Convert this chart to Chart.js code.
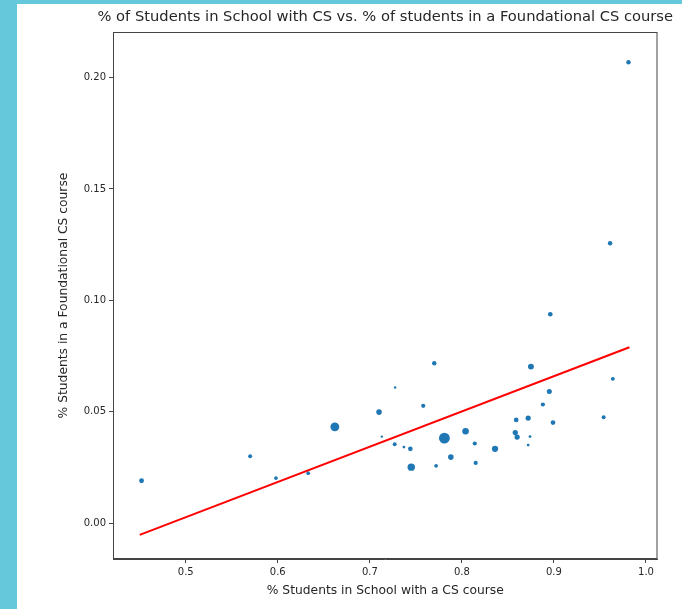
<!DOCTYPE html>
<html>
<head>
<meta charset="utf-8">
<script src="https://cdn.jsdelivr.net/npm/chart.js@4.4.1/dist/chart.umd.min.js"></script>
<style>
  html, body { margin: 0; padding: 0; }
  body { width: 682px; height: 609px; background: #65c8db; position: relative; overflow: hidden; }
  .panel { position: absolute; left: 17px; top: 4px; right: 0; bottom: 0; background: #fff; }
  #chart { position: absolute; left: 0; top: 0; }
</style>
</head>
<body>
<div class="panel"></div>
<canvas id="chart" width="682" height="609"></canvas>
<script>
// share of students in schools offering CS (x) vs share in a foundational CS course (y)
const pctWithCS = [
  0.452, 0.570, 0.598, 0.633, 0.662, 0.710, 0.713, 0.7275, 0.727, 0.737,
  0.744, 0.745, 0.758, 0.770, 0.772, 0.781, 0.788, 0.804, 0.814, 0.815,
  0.836, 0.858, 0.859, 0.860, 0.872, 0.872, 0.874, 0.875, 0.888, 0.895,
  0.896, 0.899, 0.954, 0.961, 0.964, 0.981
];
const pctFoundational = [
  0.0191, 0.0301, 0.0203, 0.0225, 0.0433, 0.0499, 0.0389, 0.0609, 0.0355, 0.0342,
  0.0334, 0.0252, 0.0527, 0.0718, 0.0258, 0.0382, 0.0297, 0.0413, 0.0358, 0.0271,
  0.0334, 0.0407, 0.0464, 0.0387, 0.0472, 0.0351, 0.0389, 0.0703, 0.0533, 0.0591,
  0.0938, 0.0452, 0.0476, 0.1256, 0.0648, 0.2068
];
// marker weight per school (matplotlib-style area)
const markerWeight = [
  12, 8, 7, 7, 40, 16, 3, 3, 8, 4,
  11, 28, 9, 10, 7, 60, 16, 22, 9, 9,
  20, 14, 11, 14, 14, 4, 4, 18, 9, 13,
  11, 11, 8, 10, 8, 10
];
// least-squares fit line endpoints
const fitX = [0.450, 0.982];
const fitY = [-0.0052, 0.0790];

const xTicks = [0.5, 0.6, 0.7, 0.8, 0.9, 1.0];
const yTicks = [0.00, 0.05, 0.10, 0.15, 0.20];

const chartTitle = '% of Students in School with CS vs. % of students in a Foundational CS course';

const FONT = "'DejaVu Sans', sans-serif";
const INK = '#262626';

const points = pctWithCS.map((x, i) => ({ x, y: pctFoundational[i] }));
const fitLine = fitX.map((x, i) => ({ x, y: fitY[i] }));

// closes the box (top and right spines) and centres the title over the axes,
// letting it run wider than the plot like matplotlib does
const frame = {
  id: 'frame',
  afterDraw(chart) {
    const { ctx, chartArea: a } = chart;
    ctx.save();
    ctx.strokeStyle = '#444';
    ctx.lineWidth = 1;
    ctx.strokeRect(a.left + 0.5, a.top + 0.5, a.right - a.left - 1, a.bottom - a.top - 1);

    ctx.fillStyle = INK;
    ctx.font = `14.7px ${FONT}`;
    ctx.textAlign = 'center';
    ctx.textBaseline = 'alphabetic';
    ctx.fillText(chartTitle, (a.left + a.right) / 2, a.top - 11);
    ctx.restore();
  }
};

new Chart(document.getElementById('chart'), {
  type: 'scatter',
  data: {
    datasets: [
      {
        label: 'fit',
        type: 'line',
        data: fitLine,
        borderColor: '#ff0000',
        borderWidth: 2,
        pointRadius: 0,
        fill: false,
        order: 1
      },
      {
        label: 'schools',
        data: points,
        backgroundColor: '#1f77b4',
        borderWidth: 0,
        pointRadius: ctx => Math.sqrt(markerWeight[ctx.dataIndex] || 8) * 0.7,
        order: 2
      }
    ]
  },
  options: {
    responsive: false,
    animation: false,
    layout: { padding: { left: 0, right: 24.5, top: 32, bottom: 0 } },
    plugins: {
      legend: { display: false },
      tooltip: { enabled: false },
      title: { display: false }
    },
    scales: {
      x: {
        type: 'linear',
        min: 0.421,
        max: 1.0125,
        afterBuildTicks: s => { s.ticks = xTicks.map(v => ({ value: v })); },
        afterFit: s => { s.height = 50; },
        grid: { drawOnChartArea: false, drawTicks: true, tickLength: 4, color: '#444' },
        border: { color: '#444', width: 1 },
        ticks: {
          color: INK,
          padding: 3,
          maxRotation: 0,
          font: { family: FONT, size: 10 },
          callback: v => v.toFixed(1)
        },
        title: {
          display: true,
          text: '% Students in School with a CS course',
          color: INK,
          font: { family: FONT, size: 12.3, lineHeight: 1.2 },
          padding: { top: 0, bottom: 10.6 }
        }
      },
      y: {
        type: 'linear',
        min: -0.016,
        max: 0.2204,
        afterBuildTicks: s => { s.ticks = yTicks.map(v => ({ value: v })); },
        afterFit: s => { s.width = 113; },
        grid: { drawOnChartArea: false, drawTicks: true, tickLength: 4, color: '#444' },
        border: { color: '#444', width: 1 },
        ticks: {
          color: INK,
          padding: 3,
          font: { family: FONT, size: 10 },
          callback: v => v.toFixed(2)
        },
        title: {
          display: true,
          text: '% Students in a Foundational CS course',
          color: INK,
          font: { family: FONT, size: 12.3, lineHeight: 1.2 },
          padding: { top: 56.6, bottom: 0 }
        }
      }
    }
  },
  plugins: [frame]
});
</script>
</body>
</html>
